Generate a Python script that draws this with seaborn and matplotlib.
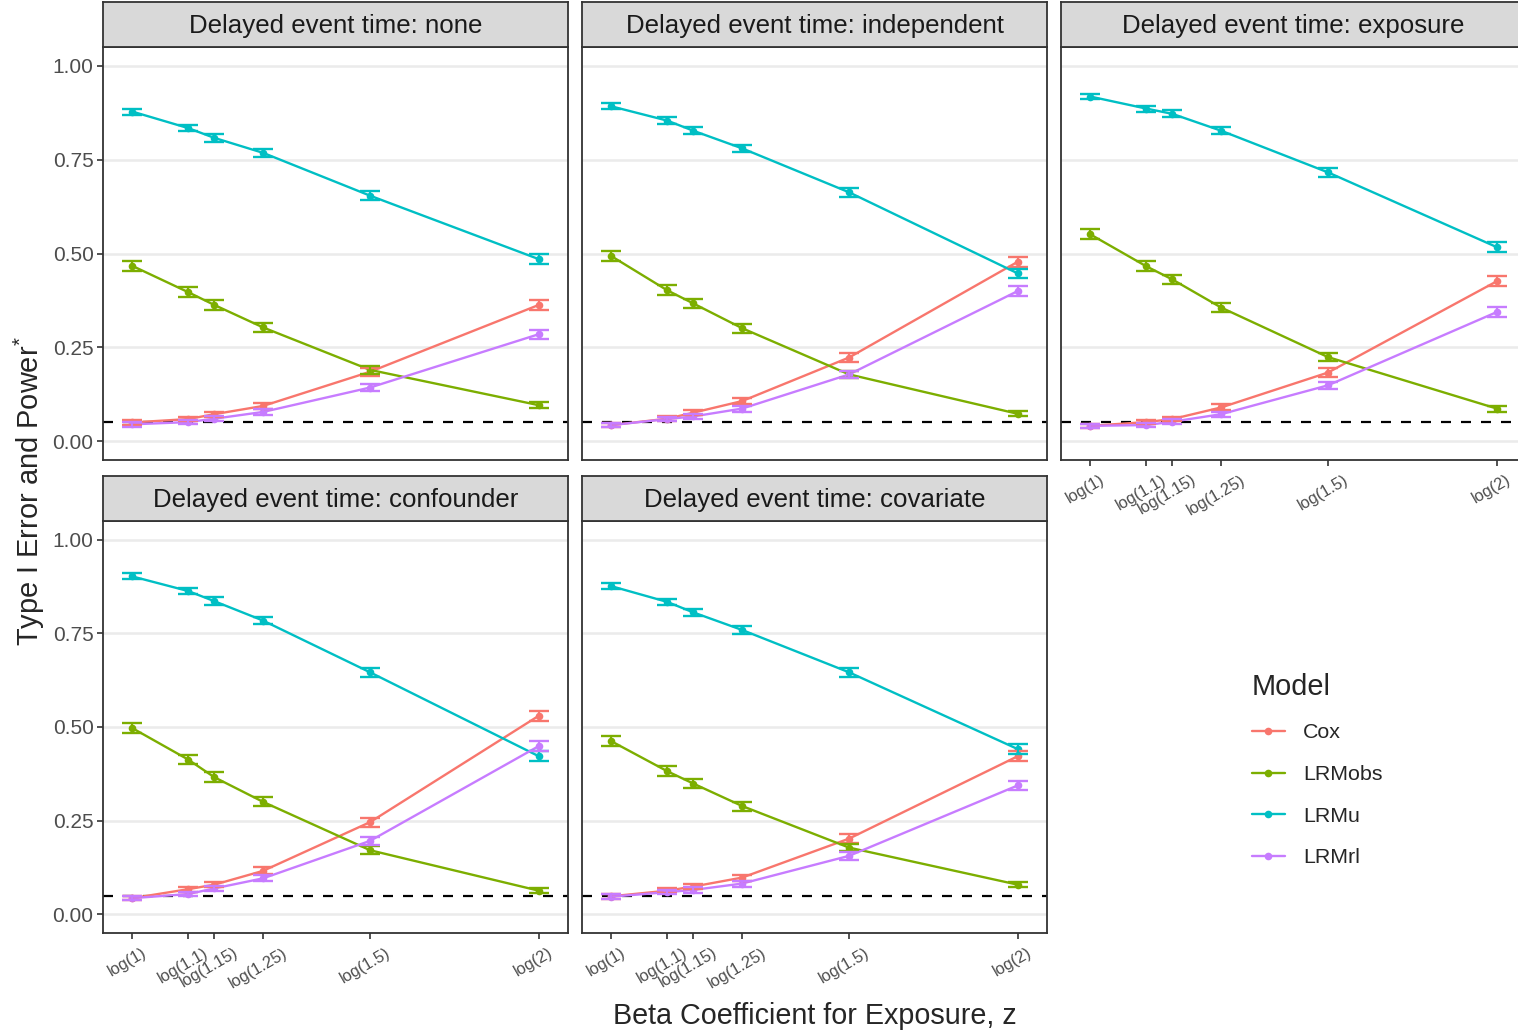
import numpy as np
import pandas as pd
import seaborn as sns
import matplotlib.pyplot as plt
from matplotlib.lines import Line2D
import matplotlib.transforms as mtransforms

sns.set_style("white")
plt.rcParams['font.family'] = ['Liberation Sans', 'DejaVu Sans']
plt.rcParams['mathtext.fontset'] = 'custom'
plt.rcParams['mathtext.rm'] = 'Liberation Sans'

# Data
beta_ratio = [1, 1.1, 1.15, 1.25, 1.5, 2]
beta_labels = ["log(1)", "log(1.1)", "log(1.15)", "log(1.25)", "log(1.5)", "log(2)"]
models = ["Cox", "LRMobs", "LRMu", "LRMrl"]
colors = ["#F8766D", "#7CAE00", "#00BFC4", "#C77CFF"]
scenarios = ["none", "independent", "exposure", "confounder", "covariate"]

rate_none = {
    "Cox":    [0.050, 0.059, 0.072, 0.094, 0.185, 0.363],
    "LRMobs": [0.467, 0.397, 0.363, 0.303, 0.190, 0.096],
    "LRMu":   [0.878, 0.834, 0.808, 0.768, 0.654, 0.485],
    "LRMrl":  [0.045, 0.051, 0.060, 0.078, 0.143, 0.285],
}
ci_none = {
    "Cox":    [0.006, 0.006, 0.007, 0.008, 0.011, 0.013],
    "LRMobs": [0.013, 0.013, 0.013, 0.012, 0.011, 0.008],
    "LRMu":   [0.008, 0.009, 0.010, 0.011, 0.012, 0.013],
    "LRMrl":  [0.006, 0.006, 0.006, 0.007, 0.009, 0.012],
}
rate_independent = {
    "Cox":    [0.043, 0.060, 0.076, 0.107, 0.223, 0.478],
    "LRMobs": [0.493, 0.402, 0.367, 0.301, 0.178, 0.073],
    "LRMu":   [0.892, 0.854, 0.827, 0.780, 0.663, 0.447],
    "LRMrl":  [0.043, 0.059, 0.066, 0.087, 0.178, 0.400],
}
ci_independent = {
    "Cox":    [0.006, 0.006, 0.007, 0.008, 0.011, 0.013],
    "LRMobs": [0.013, 0.013, 0.013, 0.012, 0.010, 0.007],
    "LRMu":   [0.008, 0.009, 0.010, 0.010, 0.012, 0.013],
    "LRMrl":  [0.006, 0.006, 0.007, 0.008, 0.010, 0.013],
}
rate_exposure = {
    "Cox":    [0.041, 0.051, 0.059, 0.090, 0.183, 0.426],
    "LRMobs": [0.551, 0.466, 0.431, 0.356, 0.224, 0.087],
    "LRMu":   [0.918, 0.886, 0.872, 0.827, 0.716, 0.517],
    "LRMrl":  [0.041, 0.043, 0.052, 0.072, 0.149, 0.344],
}
ci_exposure = {
    "Cox":    [0.006, 0.006, 0.006, 0.008, 0.011, 0.013],
    "LRMobs": [0.013, 0.013, 0.013, 0.013, 0.011, 0.008],
    "LRMu":   [0.007, 0.008, 0.009, 0.010, 0.011, 0.013],
    "LRMrl":  [0.006, 0.006, 0.006, 0.007, 0.010, 0.013],
}
rate_confounder = {
    "Cox":    [0.043, 0.067, 0.079, 0.116, 0.246, 0.530],
    "LRMobs": [0.497, 0.413, 0.366, 0.300, 0.171, 0.063],
    "LRMu":   [0.902, 0.863, 0.836, 0.784, 0.646, 0.422],
    "LRMrl":  [0.043, 0.054, 0.069, 0.096, 0.196, 0.449],
}
ci_confounder = {
    "Cox":    [0.006, 0.007, 0.007, 0.009, 0.012, 0.013],
    "LRMobs": [0.013, 0.013, 0.013, 0.012, 0.010, 0.007],
    "LRMu":   [0.008, 0.009, 0.010, 0.010, 0.012, 0.013],
    "LRMrl":  [0.006, 0.006, 0.007, 0.008, 0.011, 0.013],
}
rate_covariate = {
    "Cox":    [0.048, 0.063, 0.074, 0.098, 0.202, 0.422],
    "LRMobs": [0.462, 0.382, 0.349, 0.289, 0.178, 0.079],
    "LRMu":   [0.876, 0.834, 0.806, 0.759, 0.646, 0.441],
    "LRMrl":  [0.047, 0.059, 0.065, 0.082, 0.156, 0.344],
}
ci_covariate = {
    "Cox":    [0.006, 0.007, 0.007, 0.008, 0.011, 0.013],
    "LRMobs": [0.013, 0.013, 0.013, 0.012, 0.010, 0.007],
    "LRMu":   [0.008, 0.009, 0.010, 0.011, 0.012, 0.013],
    "LRMrl":  [0.006, 0.006, 0.007, 0.008, 0.010, 0.012],
}

rates = [rate_none, rate_independent, rate_exposure, rate_confounder, rate_covariate]
cis = [ci_none, ci_independent, ci_exposure, ci_confounder, ci_covariate]

beta = np.log(beta_ratio)
rows = []
for scen, r, c in zip(scenarios, rates, cis):
    for m in models:
        for b, v, e in zip(beta, r[m], c[m]):
            rows.append({"scenario": scen, "model": m, "beta": b, "rate": v, "ci": e})
df = pd.DataFrame(rows)

# layout in pixels
W, H = 1518, 1033
fig = plt.figure(figsize=(W / 100, H / 100), dpi=100)

def box(l, t, r, b):
    return [l / W, 1 - b / H, (r - l) / W, (b - t) / H]

col_x = [(103, 568), (582, 1047), (1061, 1526)]
row_y = [(2, 47, 460), (476, 521, 933)]  # strip top, panel top, panel bottom
dark = "#333333"
palette = dict(zip(models, colors))

for i, scen in enumerate(scenarios):
    r, c = divmod(i, 3)
    l, rr = col_x[c]
    st, pt, pb = row_y[r]

    ax = fig.add_axes(box(l, pt, rr, pb))
    sub = df[df["scenario"] == scen]
    ax.axhline(0.05, color="black", ls=(0, (4.5, 4.5)), lw=1.6, zorder=1)
    sns.lineplot(data=sub, x="beta", y="rate", hue="model", hue_order=models,
                 palette=palette, marker="o", markersize=5.5, markeredgewidth=0,
                 lw=1.7, ax=ax, legend=False, zorder=3)
    for m in models:
        s = sub[sub["model"] == m]
        ax.errorbar(s["beta"], s["rate"], yerr=s["ci"], fmt="none",
                    ecolor=palette[m], elinewidth=1.6, capsize=7.5, capthick=1.7, zorder=3)

    ax.set_xlim(-0.05, 0.743)
    ax.set_ylim(-0.05, 1.05)
    ax.set_yticks([0, 0.25, 0.5, 0.75, 1.0])
    ax.set_xticks(beta)
    ax.set_xlabel("")
    ax.set_ylabel("")
    ax.grid(axis="y", color="#EBEBEB", lw=1.8)
    ax.grid(axis="x", visible=False)
    ax.set_axisbelow(True)
    for sp in ax.spines.values():
        sp.set_color(dark)
        sp.set_linewidth(1.3)
    ax.tick_params(length=4.3, width=1.2, color=dark, labelcolor="#4D4D4D")

    if c == 0:
        ax.set_yticklabels(["0.00", "0.25", "0.50", "0.75", "1.00"], fontsize=15)
        ax.tick_params(axis="y", left=True, pad=2.5)
    else:
        ax.tick_params(axis="y", left=False, labelleft=False)

    if i >= 2:
        ax.set_xticklabels(beta_labels, rotation=30, fontsize=11.8, ha="center")
        ax.tick_params(axis="x", bottom=True, pad=4.5)
        offset = mtransforms.ScaledTranslation(-0.05, 0, fig.dpi_scale_trans)
        for lab in ax.get_xticklabels():
            lab.set_transform(lab.get_transform() + offset)
    else:
        ax.tick_params(axis="x", bottom=False, labelbottom=False)

    # facet strip
    sax = fig.add_axes(box(l, st, rr, pt))
    sax.set_facecolor("#D9D9D9")
    sax.set_xticks([])
    sax.set_yticks([])
    for sp in sax.spines.values():
        sp.set_color(dark)
        sp.set_linewidth(1.3)
    sax.text(0.5, 0.47, f"Delayed event time: {scen}", transform=sax.transAxes,
             ha="center", va="center", fontsize=18.6, color="#1A1A1A")

fig.text(815 / W, 1 - 1016 / H, "Beta Coefficient for Exposure, z",
         ha="center", va="center", fontsize=20.7)
fig.text(29 / W, 1 - 491 / H, r"Type I Error and Power$^{*}$",
         rotation=90, ha="center", va="center", fontsize=20.9)

handles = [Line2D([], [], color=col, marker="o", markersize=5.5, markeredgewidth=0, lw=1.7)
           for col in colors]
fig.legend(handles, models, title="Model", loc="upper left",
           bbox_to_anchor=(1241 / W, 1 - 662 / H), frameon=False,
           fontsize=15.4, title_fontsize=20.8, handlelength=1.55,
           handletextpad=0.85, labelspacing=1.06, borderpad=0,
           alignment="left")

fig.savefig("out.png", dpi=100)
